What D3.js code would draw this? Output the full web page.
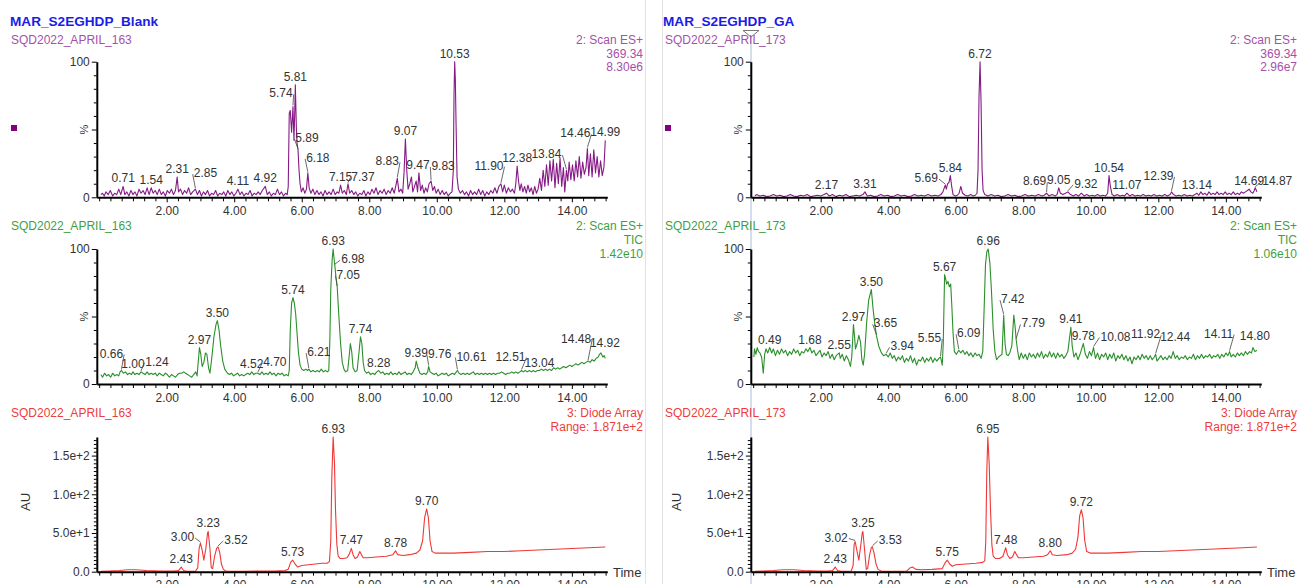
<!DOCTYPE html>
<html>
<head>
<meta charset="utf-8">
<script src="https://cdn.jsdelivr.net/npm/d3@7"></script>
<style>
  body { margin: 0; background: #fff; }
  svg { display: block; font-family: Arial, 'Liberation Sans', sans-serif; }
</style>
</head>
<body>
<script>
// ---- run headers ----
var titles = ['MAR_S2EGHDP_Blank', 'MAR_S2EGHDP_GA']
var runs = ['SQD2022_APRIL_163', 'SQD2022_APRIL_173']
var infoBlank = [['2: Scan ES+', '369.34', '8.30e6'], ['2: Scan ES+', 'TIC', '1.42e10'], ['3: Diode Array', 'Range: 1.871e+2']]
var infoGA = [['2: Scan ES+', '369.34', '2.96e7'], ['2: Scan ES+', 'TIC', '1.06e10'], ['3: Diode Array', 'Range: 1.871e+2']]

// ---- tick labels ----
var timeTicks = [2, 4, 6, 8, 10, 12, 14]
var timeTickLabels = ['2.00', '4.00', '6.00', '8.00', '10.00', '12.00', '14.00']
var pctTicks = [0, 100]
var pctTickLabels = ['0', '100']
var auTicks = [0, 50, 100, 150]
var auTickLabels = ['0.0', '5.0e+1', '1.0e+2', '1.5e+2']

// ---- traces: [time (min), intensity] ----
var blankMS = [[0.05,2],[0.1,3],[0.15,1],[0.2,4],[0.27,2],[0.33,5],[0.4,1],[0.46,3],[0.52,2],[0.58,6],[0.64,2],[0.71,8],[0.76,2],[0.82,4],[0.88,1],[0.94,5],[1.0,2],[1.06,4],[1.12,1],[1.18,6],[1.24,3],[1.3,5],[1.36,2],[1.42,7],[1.48,2],[1.54,7],[1.6,3],[1.66,5],[1.72,2],[1.78,6],[1.84,2],[1.9,4],[1.96,1],[2.02,5],[2.08,3],[2.14,6],[2.2,2],[2.26,5],[2.31,15],[2.35,4],[2.41,6],[2.47,2],[2.53,5],[2.59,3],[2.65,7],[2.71,2],[2.77,4],[2.85,6],[2.91,2],[2.97,5],[3.03,1],[3.09,4],[3.15,2],[3.21,5],[3.27,1],[3.33,3],[3.39,2],[3.45,5],[3.51,1],[3.57,3],[3.63,2],[3.69,4],[3.75,1],[3.81,5],[3.87,2],[3.93,4],[3.99,1],[4.05,3],[4.11,6],[4.17,2],[4.23,4],[4.29,1],[4.35,3],[4.41,2],[4.47,5],[4.53,1],[4.59,3],[4.65,2],[4.71,4],[4.77,2],[4.83,5],[4.92,8],[4.98,2],[5.04,4],[5.1,1],[5.16,3],[5.22,2],[5.28,6],[5.34,2],[5.4,4],[5.46,1],[5.52,3],[5.57,2],[5.6,8],[5.63,62],[5.66,64],[5.7,48],[5.74,67],[5.77,42],[5.79,60],[5.81,83],[5.84,52],[5.86,40],[5.89,35],[5.92,20],[5.95,10],[5.99,4],[6.04,7],[6.09,3],[6.14,6],[6.18,18],[6.22,7],[6.27,3],[6.33,6],[6.39,2],[6.45,5],[6.51,2],[6.57,4],[6.63,1],[6.69,5],[6.75,2],[6.81,4],[6.87,2],[6.93,6],[6.99,2],[7.05,4],[7.1,3],[7.15,9],[7.2,3],[7.26,5],[7.32,2],[7.37,10],[7.42,3],[7.48,5],[7.54,2],[7.6,4],[7.66,1],[7.72,3],[7.78,2],[7.84,5],[7.9,1],[7.96,4],[8.02,2],[8.08,6],[8.14,3],[8.2,7],[8.26,2],[8.32,5],[8.38,3],[8.44,6],[8.5,2],[8.56,5],[8.62,3],[8.68,7],[8.74,3],[8.79,9],[8.83,14],[8.88,4],[8.94,6],[8.99,3],[9.03,18],[9.07,43],[9.11,20],[9.15,6],[9.2,10],[9.25,15],[9.29,4],[9.34,8],[9.39,12],[9.43,4],[9.47,18],[9.52,5],[9.57,9],[9.62,3],[9.67,7],[9.72,4],[9.77,10],[9.83,12],[9.88,5],[9.93,8],[9.98,3],[10.04,6],[10.1,2],[10.16,5],[10.22,2],[10.28,4],[10.34,1],[10.4,3],[10.45,4],[10.49,20],[10.51,76],[10.53,100],[10.55,86],[10.57,55],[10.6,15],[10.64,6],[10.7,3],[10.76,5],[10.82,2],[10.88,4],[10.94,1],[11.0,5],[11.06,2],[11.12,4],[11.18,2],[11.24,6],[11.3,2],[11.36,5],[11.42,1],[11.48,4],[11.54,2],[11.6,5],[11.66,3],[11.72,7],[11.78,3],[11.84,8],[11.9,10],[11.95,4],[12.0,9],[12.06,3],[12.12,7],[12.18,4],[12.24,6],[12.3,3],[12.34,10],[12.38,23],[12.42,12],[12.46,5],[12.5,10],[12.55,4],[12.6,8],[12.65,3],[12.7,9],[12.75,4],[12.8,7],[12.85,2],[12.9,8],[12.95,3],[13.0,6],[13.05,14],[13.1,5],[13.15,20],[13.2,8],[13.25,24],[13.3,9],[13.35,27],[13.4,12],[13.45,28],[13.5,7],[13.55,25],[13.6,10],[13.65,29],[13.7,8],[13.75,22],[13.79,4],[13.84,20],[13.88,12],[13.92,26],[13.97,13],[14.02,24],[14.07,12],[14.12,27],[14.17,15],[14.22,30],[14.27,14],[14.32,26],[14.37,17],[14.42,22],[14.46,36],[14.5,16],[14.55,32],[14.6,15],[14.65,35],[14.7,18],[14.75,30],[14.8,15],[14.85,27],[14.9,16],[14.95,22],[14.99,42]]

var blankTIC = [[0.05,7],[0.1,5],[0.16,8],[0.22,6],[0.28,7],[0.34,5],[0.4,8],[0.46,6],[0.52,7],[0.58,6],[0.62,9],[0.66,10],[0.72,8],[0.78,9],[0.84,7],[0.9,8],[0.96,7],[1.0,9],[1.06,7],[1.12,8],[1.18,7],[1.24,9],[1.3,8],[1.36,7],[1.42,9],[1.48,7],[1.54,8],[1.6,7],[1.66,8],[1.72,6],[1.78,8],[1.84,7],[1.9,6],[1.96,8],[2.02,7],[2.08,5],[2.14,7],[2.2,6],[2.26,5],[2.32,7],[2.38,8],[2.44,8],[2.5,9],[2.56,8],[2.62,7],[2.68,6],[2.74,5],[2.8,7],[2.86,9],[2.9,6],[2.93,15],[2.97,27],[3.01,22],[3.05,13],[3.1,16],[3.15,23],[3.19,22],[3.24,12],[3.28,8],[3.33,18],[3.4,35],[3.46,44],[3.5,47],[3.55,40],[3.6,28],[3.66,17],[3.72,11],[3.8,8],[3.86,7],[3.92,8],[3.98,6],[4.04,7],[4.1,8],[4.16,6],[4.22,7],[4.28,6],[4.34,7],[4.4,8],[4.46,7],[4.52,9],[4.58,7],[4.64,8],[4.7,8],[4.76,7],[4.82,9],[4.88,7],[4.94,8],[5.0,7],[5.06,9],[5.12,7],[5.18,8],[5.24,6],[5.3,8],[5.36,7],[5.42,8],[5.48,6],[5.54,7],[5.6,6],[5.63,10],[5.66,40],[5.7,60],[5.74,64],[5.78,60],[5.82,52],[5.86,38],[5.9,24],[5.95,14],[6.0,11],[6.06,10],[6.12,11],[6.17,10],[6.21,11],[6.27,9],[6.33,10],[6.4,9],[6.46,10],[6.52,9],[6.58,11],[6.64,9],[6.7,10],[6.76,9],[6.8,10],[6.83,30],[6.86,70],[6.9,92],[6.93,100],[6.96,92],[6.98,88],[7.01,80],[7.05,72],[7.1,50],[7.15,30],[7.2,16],[7.25,11],[7.3,9],[7.36,10],[7.41,22],[7.44,30],[7.48,24],[7.52,12],[7.58,9],[7.64,10],[7.69,22],[7.74,35],[7.78,30],[7.82,16],[7.86,10],[7.92,8],[7.98,9],[8.04,7],[8.1,8],[8.16,7],[8.22,9],[8.28,10],[8.34,8],[8.4,9],[8.46,7],[8.52,8],[8.58,7],[8.64,9],[8.7,7],[8.76,8],[8.82,7],[8.88,9],[8.94,7],[9.0,8],[9.06,9],[9.12,7],[9.18,8],[9.24,7],[9.3,9],[9.36,12],[9.39,17],[9.44,12],[9.5,8],[9.56,7],[9.62,8],[9.68,7],[9.73,9],[9.76,13],[9.8,9],[9.86,8],[9.92,7],[9.98,8],[10.04,6],[10.1,7],[10.16,8],[10.22,7],[10.28,8],[10.34,6],[10.4,7],[10.46,8],[10.52,7],[10.58,9],[10.61,10],[10.66,8],[10.72,7],[10.78,8],[10.84,7],[10.9,8],[10.96,7],[11.02,8],[11.08,9],[11.14,7],[11.2,8],[11.26,7],[11.32,8],[11.38,7],[11.44,8],[11.5,7],[11.56,8],[11.62,7],[11.68,8],[11.74,7],[11.8,8],[11.86,8],[11.92,9],[11.98,8],[12.04,7],[12.1,8],[12.16,8],[12.22,9],[12.28,8],[12.34,9],[12.4,8],[12.46,9],[12.51,10],[12.56,9],[12.62,10],[12.68,9],[12.74,10],[12.8,9],[12.86,10],[12.92,9],[12.98,10],[13.04,10],[13.1,11],[13.16,10],[13.22,11],[13.28,10],[13.34,11],[13.4,10],[13.46,12],[13.52,11],[13.58,12],[13.64,11],[13.7,12],[13.76,13],[13.82,12],[13.88,13],[13.94,14],[14.0,13],[14.06,14],[14.12,15],[14.18,14],[14.24,15],[14.3,16],[14.36,15],[14.42,16],[14.48,17],[14.54,16],[14.6,18],[14.66,17],[14.72,19],[14.78,20],[14.82,22],[14.86,23],[14.92,20],[14.96,21],[14.99,19]]

var blankUV = [[0.05,0.5],[0.3,1],[0.6,1.5],[0.85,2.5],[1.1,2.5],[1.4,1.5],[1.8,1],[2.2,1],[2.35,1.5],[2.43,6],[2.5,1.5],[2.6,0.5],[2.85,0.5],[2.92,5],[2.96,30],[3.0,37],[3.05,28],[3.1,15],[3.16,30],[3.21,50],[3.23,52],[3.28,30],[3.32,5],[3.36,4],[3.42,20],[3.48,30],[3.52,32],[3.57,25],[3.62,10],[3.68,3],[3.75,1],[3.9,0.5],[4.3,0.5],[4.8,1],[5.2,1],[5.5,1.5],[5.6,3],[5.67,12],[5.73,15],[5.8,10],[5.88,6],[6.0,8],[6.2,9],[6.4,10],[6.6,11],[6.75,11],[6.82,13],[6.86,40],[6.89,120],[6.93,174],[6.97,140],[7.0,80],[7.04,35],[7.08,20],[7.14,17],[7.24,17],[7.34,18],[7.4,22],[7.47,30],[7.52,22],[7.58,17],[7.65,19],[7.72,26],[7.77,22],[7.82,18],[7.95,18],[8.2,19],[8.5,20],[8.7,22],[8.78,27],[8.84,22],[9.0,21],[9.2,22],[9.4,24],[9.5,28],[9.58,40],[9.64,70],[9.7,81],[9.75,70],[9.8,40],[9.86,26],[9.95,24],[10.5,24],[11.0,25],[11.5,26],[12.0,26],[12.5,27],[13.0,28],[13.5,29],[14.0,30],[14.5,31],[14.99,32]]

var gaMS = [[0.05,1],[0.1,2],[0.2,1],[0.3,1.5],[0.4,0.5],[0.5,1],[0.6,2],[0.7,1],[0.8,1.5],[0.9,0.5],[1.0,1],[1.1,2],[1.2,1],[1.3,0.5],[1.4,1.5],[1.5,1],[1.6,2],[1.7,0.5],[1.8,1],[1.9,1.5],[2.0,1],[2.1,2],[2.17,3],[2.25,1],[2.35,2],[2.45,0.5],[2.55,1.5],[2.65,1],[2.75,2],[2.85,0.5],[2.95,1],[3.05,1.5],[3.15,1],[3.25,2],[3.31,4],[3.38,1],[3.48,1.5],[3.58,0.5],[3.68,1],[3.78,2],[3.88,1],[3.98,1.5],[4.08,0.5],[4.18,1],[4.28,2],[4.38,1],[4.48,1.5],[4.58,0.5],[4.68,1],[4.78,2],[4.88,1],[4.98,1.5],[5.08,1],[5.18,2],[5.28,1],[5.38,1.5],[5.48,1],[5.56,2],[5.62,4],[5.66,7],[5.69,9],[5.72,6],[5.76,10],[5.8,11],[5.84,16],[5.88,8],[5.92,2],[5.98,1],[6.05,1.5],[6.1,3],[6.15,8],[6.2,3],[6.28,1.5],[6.36,1],[6.44,2],[6.52,1],[6.58,1.5],[6.63,3],[6.66,20],[6.69,75],[6.72,100],[6.75,70],[6.78,20],[6.81,5],[6.86,2],[6.95,1],[7.05,2],[7.15,1],[7.25,1.5],[7.35,0.5],[7.45,1],[7.55,2],[7.65,1],[7.75,1.5],[7.85,0.5],[7.95,1],[8.05,2],[8.15,1],[8.25,1.5],[8.35,1],[8.45,2],[8.55,1],[8.62,1.5],[8.69,3],[8.76,1],[8.85,2],[8.95,1],[9.0,2],[9.05,7],[9.1,3],[9.17,2],[9.25,3],[9.32,4],[9.4,2],[9.48,1],[9.56,2],[9.64,1],[9.72,3],[9.8,1],[9.88,2],[9.96,1],[10.04,1.5],[10.12,1],[10.2,2],[10.28,1],[10.36,1.5],[10.44,1],[10.5,3],[10.54,16],[10.58,8],[10.63,2],[10.7,1],[10.78,2],[10.86,1],[10.94,1.5],[11.0,1],[11.07,3],[11.15,1],[11.23,2],[11.31,1],[11.39,1.5],[11.47,1],[11.55,2],[11.63,1],[11.71,1.5],[11.79,1],[11.87,2],[11.95,1],[12.03,1.5],[12.11,1],[12.19,2],[12.27,1],[12.35,2],[12.39,4],[12.45,2],[12.53,1],[12.61,1.5],[12.69,1],[12.77,2],[12.85,1],[12.93,1.5],[13.01,1],[13.08,2],[13.14,3],[13.2,1.5],[13.26,4],[13.32,2],[13.38,3],[13.44,1.5],[13.5,4],[13.56,2],[13.62,3],[13.68,2],[13.74,4],[13.8,2],[13.86,3],[13.92,2],[13.98,4],[14.04,2],[14.1,3],[14.16,2],[14.22,4],[14.28,2],[14.34,3],[14.4,2],[14.46,4],[14.52,3],[14.58,4],[14.64,5],[14.69,6],[14.74,4],[14.8,3],[14.84,5],[14.87,7],[14.92,4]]

var gaTIC = [[0.02,20],[0.04,26],[0.08,22],[0.12,27],[0.16,24],[0.2,23],[0.25,20],[0.3,8],[0.34,22],[0.38,26],[0.43,23],[0.49,27],[0.55,23],[0.6,26],[0.66,21],[0.72,25],[0.78,22],[0.84,26],[0.9,23],[0.96,25],[1.02,21],[1.08,24],[1.14,22],[1.2,26],[1.26,23],[1.32,25],[1.38,21],[1.44,24],[1.5,23],[1.56,26],[1.62,24],[1.68,27],[1.74,23],[1.8,25],[1.86,21],[1.92,23],[1.98,25],[2.04,20],[2.1,23],[2.16,21],[2.22,24],[2.28,19],[2.34,22],[2.4,18],[2.46,21],[2.55,23],[2.58,19],[2.64,22],[2.7,17],[2.76,21],[2.82,18],[2.88,13],[2.92,20],[2.97,44],[3.0,36],[3.03,26],[3.08,30],[3.13,36],[3.18,31],[3.22,18],[3.26,14],[3.3,22],[3.36,45],[3.42,62],[3.5,70],[3.55,56],[3.6,45],[3.65,36],[3.72,28],[3.8,23],[3.86,21],[3.94,22],[4.0,20],[4.06,23],[4.12,19],[4.18,21],[4.24,17],[4.3,20],[4.36,18],[4.42,21],[4.48,16],[4.54,19],[4.6,17],[4.66,21],[4.72,16],[4.78,19],[4.84,14],[4.9,18],[4.96,17],[5.02,20],[5.08,16],[5.14,19],[5.2,17],[5.26,20],[5.32,16],[5.38,19],[5.44,17],[5.5,19],[5.55,20],[5.6,14],[5.63,30],[5.67,81],[5.7,78],[5.73,74],[5.77,76],[5.81,72],[5.85,74],[5.88,60],[5.92,38],[5.96,24],[6.02,22],[6.09,25],[6.15,23],[6.21,25],[6.27,22],[6.33,24],[6.39,21],[6.45,23],[6.51,20],[6.57,23],[6.63,21],[6.69,22],[6.75,19],[6.8,24],[6.84,55],[6.88,88],[6.92,98],[6.96,100],[7.01,90],[7.06,68],[7.11,40],[7.16,24],[7.21,18],[7.27,20],[7.32,21],[7.37,22],[7.42,51],[7.46,30],[7.5,22],[7.55,21],[7.6,23],[7.66,28],[7.72,51],[7.76,42],[7.79,33],[7.83,25],[7.88,18],[7.94,23],[8.0,19],[8.06,22],[8.12,18],[8.18,23],[8.24,20],[8.3,22],[8.36,19],[8.42,23],[8.48,20],[8.54,24],[8.6,19],[8.66,22],[8.72,20],[8.78,24],[8.84,20],[8.9,23],[8.96,19],[9.02,23],[9.08,20],[9.14,22],[9.2,19],[9.26,21],[9.32,24],[9.37,34],[9.41,42],[9.45,28],[9.5,20],[9.56,23],[9.62,18],[9.68,22],[9.73,26],[9.78,30],[9.84,22],[9.9,19],[9.96,24],[10.02,21],[10.08,27],[10.14,19],[10.2,23],[10.26,18],[10.32,22],[10.38,20],[10.44,23],[10.5,18],[10.56,22],[10.62,19],[10.68,23],[10.74,17],[10.8,21],[10.86,19],[10.92,22],[10.98,18],[11.04,21],[11.1,17],[11.16,20],[11.22,15],[11.28,20],[11.34,18],[11.4,21],[11.46,18],[11.52,22],[11.58,19],[11.64,21],[11.7,18],[11.76,21],[11.82,18],[11.88,20],[11.92,22],[11.96,17],[12.02,19],[12.08,21],[12.14,18],[12.2,20],[12.26,18],[12.32,21],[12.38,19],[12.44,24],[12.5,19],[12.56,21],[12.62,18],[12.68,20],[12.74,19],[12.8,21],[12.86,18],[12.92,20],[12.98,19],[13.04,22],[13.1,18],[13.16,21],[13.22,19],[13.28,22],[13.34,19],[13.4,21],[13.46,20],[13.52,22],[13.58,19],[13.64,21],[13.7,20],[13.76,22],[13.82,19],[13.88,22],[13.94,20],[14.0,23],[14.06,21],[14.11,24],[14.16,20],[14.22,22],[14.28,20],[14.34,23],[14.4,21],[14.46,23],[14.52,21],[14.58,24],[14.64,22],[14.7,24],[14.76,23],[14.8,27],[14.86,24],[14.92,25]]

var gaUV = [[0.05,0.5],[0.3,1],[0.6,1.5],[0.9,2.5],[1.2,2.5],[1.5,1.5],[1.9,1],[2.2,1],[2.35,1.5],[2.43,6],[2.5,1.5],[2.6,0.5],[2.9,0.5],[2.96,8],[2.99,35],[3.02,39],[3.07,28],[3.13,15],[3.19,35],[3.23,50],[3.25,52],[3.3,28],[3.35,3],[3.39,4],[3.45,22],[3.5,31],[3.53,32],[3.58,24],[3.64,10],[3.7,3],[3.8,0.5],[4.2,0.5],[4.55,1],[4.65,5],[4.72,6],[4.82,3],[5.0,2.5],[5.3,3],[5.6,4],[5.68,11],[5.75,15],[5.82,10],[5.9,7],[6.0,9],[6.3,10],[6.6,11],[6.8,12],[6.86,14],[6.89,40],[6.92,130],[6.95,174],[6.99,140],[7.03,80],[7.07,35],[7.11,20],[7.18,17],[7.3,17],[7.4,20],[7.48,31],[7.53,22],[7.6,17],[7.68,19],[7.75,26],[7.8,22],[7.86,18],[8.0,18],[8.3,19],[8.6,20],[8.72,22],[8.8,27],[8.86,22],[9.0,21],[9.3,22],[9.45,24],[9.55,29],[9.62,45],[9.67,72],[9.72,80],[9.77,70],[9.82,40],[9.88,26],[9.98,24],[10.5,24],[11.0,25],[11.5,26],[12.0,26],[12.5,27],[13.0,28],[13.5,29],[14.0,30],[14.5,31],[14.92,32]]

// ---- labelled peaks (retention times) ----
var blankMSPeaks = [0.71, 1.54, 2.31, 2.85, 4.11, 4.92, 5.74, 5.81, 5.89, 6.18, 7.15, 7.37, 8.83, 9.07, 9.47, 9.83, 10.53, 11.90, 12.38, 13.84, 14.46, 14.99]
var blankTICPeaks = [0.66, 1.00, 1.24, 2.97, 3.50, 4.52, 4.70, 5.74, 6.21, 6.93, 6.98, 7.05, 7.74, 8.28, 9.39, 9.76, 10.61, 12.51, 13.04, 14.48, 14.92]
var blankUVPeaks = [2.43, 3.00, 3.23, 3.52, 5.73, 6.93, 7.47, 8.78, 9.70]
var gaMSPeaks = [2.17, 3.31, 5.69, 5.84, 6.72, 8.69, 9.05, 9.32, 10.54, 11.07, 12.39, 13.14, 14.69, 14.87]
var gaTICPeaks = [0.49, 1.68, 2.55, 2.97, 3.50, 3.65, 3.94, 5.55, 5.67, 6.09, 6.96, 7.42, 7.79, 9.41, 9.78, 10.08, 11.92, 12.44, 14.11, 14.80]
var gaUVPeaks = [2.43, 3.02, 3.25, 3.53, 5.75, 6.95, 7.48, 8.80, 9.72]

// label nudges [dx, dy, leader line]
var nudge = {
  'bMS|2.85': [10, -8, 1], 'bMS|5.74': [-12, -5, 1], 'bMS|5.89': [9, -4, 1], 'bMS|6.18': [10, -7, 1],
  'bMS|7.37': [15, 1, 1], 'bMS|8.83': [-10, -9, 1], 'bMS|9.47': [-1, 0, 0], 'bMS|9.83': [12, -7, 1],
  'bMS|11.90': [-12, -10, 1], 'bMS|13.84': [-20, -8, 1], 'bMS|14.46': [-12, -7, 1],
  'bTIC|0.66': [-10, -9, 1], 'bTIC|1.24': [16, -2, 1], 'bTIC|4.70': [17, -3, 1], 'bTIC|6.21': [10, -9, 1],
  'bTIC|6.98': [18, 2, 1], 'bTIC|7.05': [11, -4, 1], 'bTIC|9.76': [11, -4, 1], 'bTIC|10.61': [14, -6, 1],
  'bTIC|12.51': [-11, -6, 1], 'bTIC|14.48': [-12, -14, 1], 'bTIC|14.92': [2, -6, 0],
  'bUV|3.00': [-18, 2, 1], 'bUV|3.52': [18, 1, 1],
  'gMS|5.69': [-19, 1, 1], 'gMS|8.69': [-12, -4, 1], 'gMS|9.32': [18, 0, 1], 'gMS|12.39': [-13, -8, 1], 'gMS|14.87': [22, 1, 1],
  'gTIC|3.65': [9, -4, 1], 'gTIC|3.94': [16, 0, 1], 'gTIC|5.55': [-11, -11, 1], 'gTIC|6.09': [10, -9, 1],
  'gTIC|7.42': [9, -8, 1], 'gTIC|7.79': [17, -8, 1], 'gTIC|10.08': [22, -3, 1], 'gTIC|11.92': [-10, -12, 1],
  'gTIC|12.44': [2, -7, 0], 'gTIC|14.11': [-11, -10, 1], 'gTIC|14.80': [2, -4, 0],
  'gUV|3.02': [-19, 4, 1], 'gUV|3.53': [18, 1, 1]
}

var columns = [
  {dx: 0, title: titles[0], run: runs[0], info: infoBlank, keys: ['bMS', 'bTIC', 'bUV'],
   traces: [blankMS, blankTIC, blankUV], peaks: [blankMSPeaks, blankTICPeaks, blankUVPeaks]},
  {dx: 654, title: titles[1], run: runs[1], info: infoGA, keys: ['gMS', 'gTIC', 'gUV'],
   traces: [gaMS, gaTIC, gaUV], peaks: [gaMSPeaks, gaTICPeaks, gaUVPeaks]}
]

var panels = [
  {top: 61.7, bottom: 197.3, max: 100, line: '#861a86', text: '#a650a8', head: 43.7, au: false},
  {top: 249, bottom: 384, max: 100, line: '#2b8f2b', text: '#3f9f3f', head: 230.3, au: false},
  {top: 437, bottom: 571.7, max: 174, line: '#ef3838', text: '#ee3c3c', head: 417.3, au: true}
]

var svg = d3.select('body').append('svg').attr('width', 1300).attr('height', 584)

// pane borders
svg.selectAll('.pane').data([645.5, 662.5]).enter().append('line')
  .attr('x1', d => d).attr('x2', d => d).attr('y1', 0).attr('y2', 584)
  .attr('stroke', '#e2e2e2')

// cursor on the GA run
svg.append('line').attr('x1', 751).attr('x2', 751).attr('y1', 36).attr('y2', 584)
  .attr('stroke', '#a9bcd8').attr('stroke-width', 1)
svg.append('path').attr('d', 'M743,30.5 L759,30.5 L751,37 Z')
  .attr('fill', '#fff').attr('stroke', '#777')

function valueAt(data, t) {
  var i = d3.bisector(d => d[0]).left(data, t)
  if (i <= 0) return data[0][1]
  if (i >= data.length) return data[data.length - 1][1]
  var a = data[i - 1], b = data[i]
  return a[1] + (b[1] - a[1]) * (t - a[0]) / (b[0] - a[0])
}

columns.forEach(function (col) {
  var g = svg.append('g')

  g.append('text').attr('x', 10 + col.dx - (col.dx ? 1 : 0)).attr('y', 25.5)
    .attr('font-size', 13.6).attr('font-weight', 'bold').attr('fill', '#1c1ce8').text(col.title)

  g.append('rect').attr('x', 11 + col.dx).attr('y', 125).attr('width', 6).attr('height', 6).attr('fill', '#800080')

  var x = d3.scaleLinear().domain([-0.07, 15.05]).range([96.8 + col.dx, 607.3 + col.dx])

  panels.forEach(function (p, pi) {
    var y = d3.scaleLinear().domain([0, p.max]).range([p.bottom, p.top])
    var data = col.traces[pi]
    var key = col.keys[pi]

    // headers
    g.append('text').attr('x', 11 + col.dx).attr('y', p.head).attr('font-size', 12)
      .attr('fill', p.text).text(col.run)
    col.info[pi].forEach(function (s, k) {
      g.append('text').attr('x', 643 + col.dx).attr('y', p.head + k * 13.8)
        .attr('text-anchor', 'end').attr('font-size', 12).attr('fill', p.text).text(s)
    })

    // trace
    g.append('path').datum(data)
      .attr('d', d3.line().x(d => x(d[0])).y(d => y(d[1])))
      .attr('fill', 'none').attr('stroke', p.line).attr('stroke-width', 1.1)
      .attr('stroke-linejoin', 'round')

    // y axis
    var yTicks = p.au ? d3.range(0, 175, 5) : d3.range(0, 101, 10)
    var lab = p.au ? auTicks : pctTicks
    var labTxt = p.au ? auTickLabels : pctTickLabels
    var yAxis = d3.axisLeft(y).tickValues(yTicks).tickSize(4).tickSizeOuter(0).tickPadding(3)
      .tickFormat(d => { var i = lab.indexOf(d); return i < 0 ? '' : labTxt[i] })
    var ya = g.append('g').attr('transform', 'translate(' + x(-0.07) + ',0)').call(yAxis)
    ya.select('.domain').attr('stroke', '#000').attr('stroke-width', 2)
    ya.selectAll('.tick line').attr('stroke', '#000').attr('x2', d => lab.indexOf(d) < 0 && d % 50 ? -3 : -5)
    ya.selectAll('.tick text').attr('font-size', 12).attr('fill', '#333').attr('font-family', null)

    if (!p.au) {
      g.append('text').attr('transform', 'translate(' + (88 + col.dx) + ',' + y(50) + ') rotate(-90)')
        .attr('text-anchor', 'middle').attr('font-size', 11).attr('fill', '#333').text('%')
    } else {
      g.append('text').attr('transform', 'translate(' + (30 + col.dx - (col.dx ? 3 : 0)) + ',' + 502 + ') rotate(-90)')
        .attr('text-anchor', 'middle').attr('font-size', 13).attr('fill', '#333').text('AU')
      g.append('text').attr('x', 613 + col.dx).attr('y', 577).attr('font-size', 13)
        .attr('fill', '#333').text('Time')
    }

    // x axis
    var xTicks = d3.range(0, 46).map(i => i / 3)
    var isLab = d => timeTicks.indexOf(Math.round(d)) >= 0 && Math.abs(d - Math.round(d)) < 1e-6
    var xAxis = d3.axisBottom(x).tickValues(xTicks).tickSize(4).tickSizeOuter(0).tickPadding(5)
      .tickFormat(d => isLab(d) ? timeTickLabels[timeTicks.indexOf(Math.round(d))] : '')
    var xa = g.append('g').attr('transform', 'translate(0,' + p.bottom + ')').call(xAxis)
    xa.select('.domain').attr('stroke', '#000').attr('stroke-width', 2)
    xa.selectAll('.tick line').attr('stroke', '#000').attr('y2', d => isLab(d) ? 5 : 4)
    xa.selectAll('.tick text').attr('font-size', 12).attr('fill', '#333').attr('font-family', null)

    // peak labels
    col.peaks[pi].forEach(function (t) {
      var txt = t.toFixed(2)
      var n = nudge[key + '|' + txt] || [0, 0, 0]
      var ax = x(t), ay = y(valueAt(data, t))
      var lx = ax + n[0], ly = ay - 4 + n[1]
      var tx = g.append('text').attr('x', lx).attr('y', ly).attr('text-anchor', 'middle')
        .attr('font-size', 12).attr('fill', '#333').text(txt)
      if (n[2]) {
        var w = tx.node().getComputedTextLength()
        var ex = n[0] > 0 ? lx - w / 2 - 1 : lx + w / 2 + 1
        g.append('line').attr('x1', ax).attr('y1', ay - 1).attr('x2', ex).attr('y2', ly - 3)
          .attr('stroke', '#444').attr('stroke-width', 0.8)
      }
    })
  })
})
</script>
</body>
</html>
